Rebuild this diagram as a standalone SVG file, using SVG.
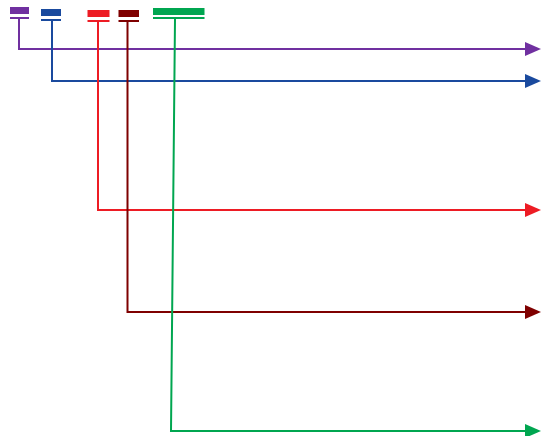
<svg xmlns="http://www.w3.org/2000/svg" width="542" height="436" viewBox="0 0 542 436">
<style>
.ln{fill:none;stroke-width:2}
</style>
<defs>
<marker id="mP" markerWidth="16" markerHeight="14" refX="0" refY="7" orient="auto" markerUnits="userSpaceOnUse"><path d="M0,0 L16,7 L0,14 Z" fill="#7030A0"/></marker>
<marker id="mB" markerWidth="16" markerHeight="14" refX="0" refY="7" orient="auto" markerUnits="userSpaceOnUse"><path d="M0,0 L16,7 L0,14 Z" fill="#1A4A9E"/></marker>
<marker id="mR" markerWidth="16" markerHeight="14" refX="0" refY="7" orient="auto" markerUnits="userSpaceOnUse"><path d="M0,0 L16,7 L0,14 Z" fill="#ED1C24"/></marker>
<marker id="mD" markerWidth="16" markerHeight="14" refX="0" refY="7" orient="auto" markerUnits="userSpaceOnUse"><path d="M0,0 L16,7 L0,14 Z" fill="#7F0000"/></marker>
<marker id="mG" markerWidth="16" markerHeight="14" refX="0" refY="7" orient="auto" markerUnits="userSpaceOnUse"><path d="M0,0 L16,7 L0,14 Z" fill="#00A650"/></marker>
</defs>
<g id="connectors">
<path class="ln" stroke="#7030A0" d="M19,18 V49 H525" marker-end="url(#mP)"/>
<path class="ln" stroke="#1A4A9E" d="M52,21 V81 H525" marker-end="url(#mB)"/>
<path class="ln" stroke="#ED1C24" d="M98,22 V210 H525" marker-end="url(#mR)"/>
<path class="ln" stroke="#7F0000" d="M127.5,22 V312 H525" marker-end="url(#mD)"/>
<path class="ln" stroke="#00A650" d="M175,19 L171,431 H525" marker-end="url(#mG)"/>
</g>
<g id="n1"><rect x="10" y="7" width="19" height="7" fill="#7030A0"/><rect x="10" y="17" width="19" height="2" fill="#7030A0"/></g>
<g id="n2"><rect x="41" y="9" width="20" height="7" fill="#1A4A9E"/><rect x="41" y="19" width="20" height="2" fill="#1A4A9E"/></g>
<g id="n3"><rect x="87.5" y="10" width="22" height="7" fill="#ED1C24"/><rect x="87.5" y="20" width="22" height="2" fill="#ED1C24"/></g>
<g id="n4"><rect x="118.5" y="10" width="20.5" height="7" fill="#7F0000"/><rect x="118.5" y="20" width="20.5" height="2" fill="#7F0000"/></g>
<g id="n5"><rect x="153" y="8" width="51.5" height="7" fill="#00A650"/><rect x="153" y="17" width="51.5" height="2" fill="#00A650"/></g>
</svg>
